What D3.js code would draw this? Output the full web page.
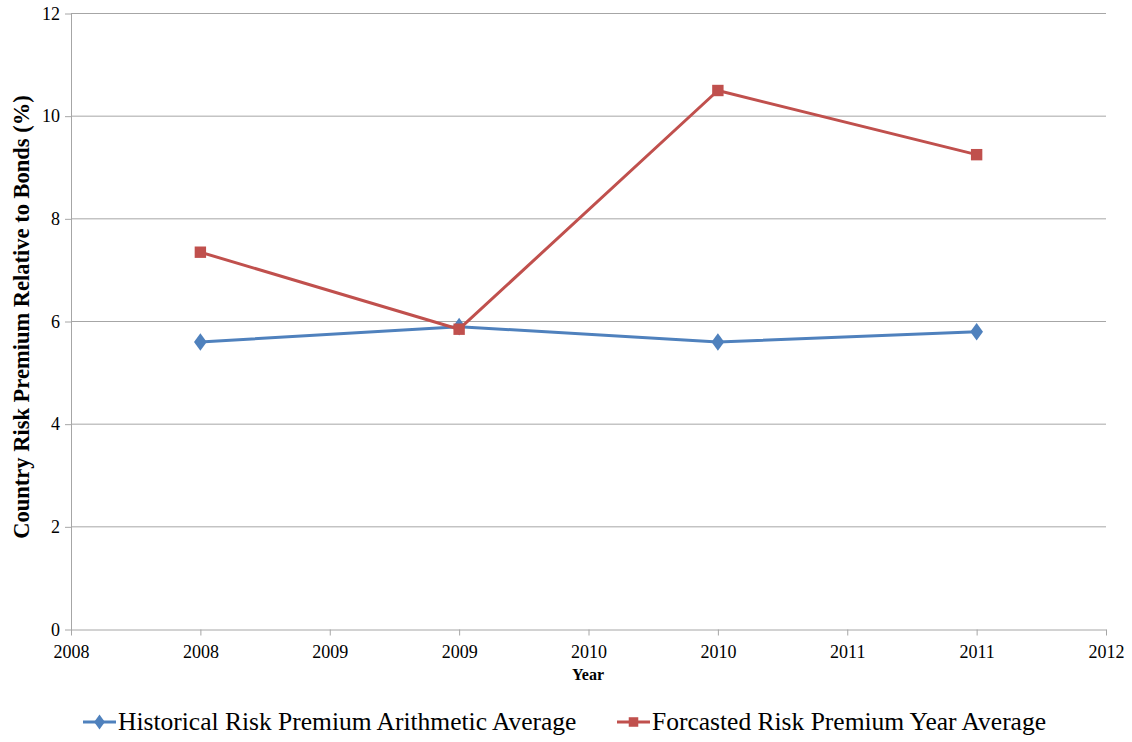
<!DOCTYPE html>
<html><head><meta charset="utf-8">
<script src="https://cdn.jsdelivr.net/npm/d3@7"></script>
<style>body{margin:0;background:#fff}svg{display:block}text{font-family:"Liberation Serif","Times New Roman",serif}</style>
</head><body><svg id="c" width="1132" height="742"></svg>
<script>
const years = [2008, 2009, 2010, 2011];
const historical = [5.6, 5.9, 5.6, 5.8];
const forecasted = [7.35, 5.85, 10.5, 9.25];
const xTicks = [2007.5, 2008, 2008.5, 2009, 2009.5, 2010, 2010.5, 2011, 2011.5];
const yTicks = [0, 2, 4, 6, 8, 10, 12];
const seriesNames = ["Historical Risk Premium Arithmetic Average", "Forcasted Risk Premium Year Average"];

const svg = d3.select("#c");
const x = d3.scaleLinear().domain([2007.5, 2011.5]).range([71, 1106]);
const y = d3.scaleLinear().domain([0, 12]).range([629.5, 13.5]);
const grid = "#a6a6a6";

// gridlines
svg.append("g").selectAll("line").data(yTicks.filter(d => d > 0)).join("line")
  .attr("x1", x.range()[0]).attr("x2", x.range()[1])
  .attr("y1", d => y(d)).attr("y2", d => y(d))
  .attr("stroke", grid).attr("stroke-width", 1);

const xa = svg.append("g").attr("transform", `translate(0,${y(0)})`)
  .call(d3.axisBottom(x).tickValues(xTicks).tickFormat(d => String(Math.floor(d + 0.5))).tickSize(6).tickSizeOuter(0));
const ya = svg.append("g").attr("transform", `translate(${x.range()[0]},0)`)
  .call(d3.axisLeft(y).tickValues(yTicks).tickSize(6).tickSizeOuter(0));
[xa, ya].forEach(a => {
  a.attr("font-family", null).attr("font-size", null);
  a.select(".domain").attr("stroke", grid);
  a.selectAll(".tick line").attr("stroke", grid);
  a.selectAll("text").style("font-size", "18px").attr("fill", "#000").style("font-family", "'Liberation Serif', serif");
});
xa.selectAll("text").attr("dy", "1.1em");
ya.selectAll("text").attr("x", -11);

const series = [
  {vals: historical, color: "#4F81BD", shape: d3.symbolDiamond, size: 90},
  {vals: forecasted, color: "#C0504D", shape: d3.symbolSquare, size: 130}
];
const line = d3.line().x((d, i) => x(years[i])).y(d => y(d));
series.forEach(s => {
  svg.append("path").datum(s.vals).attr("d", line).attr("fill", "none")
    .attr("stroke", s.color).attr("stroke-width", 3).attr("stroke-linejoin", "round");
  svg.append("g").selectAll("path").data(s.vals).join("path")
    .attr("d", d3.symbol().type(s.shape).size(s.size))
    .attr("transform", (d, i) => `translate(${x(years[i])},${y(d)})` + (s.shape === d3.symbolDiamond ? " scale(1.25,1)" : ""))
    .attr("fill", s.color);
});

// axis titles
svg.append("text").attr("transform", "translate(29,317) rotate(-90)").attr("text-anchor", "middle")
  .attr("font-size", 22.5).attr("font-weight", "bold").text("Country Risk Premium Relative to Bonds (%)");
svg.append("text").attr("x", 588).attr("y", 680).attr("text-anchor", "middle")
  .attr("font-size", 16).attr("font-weight", "bold").text("Year");

// legend
const legX = [83, 617];
series.forEach((s, i) => {
  const g = svg.append("g").attr("transform", `translate(${legX[i]},722)`);
  g.append("line").attr("x1", 0).attr("x2", 33).attr("stroke", s.color).attr("stroke-width", 3);
  g.append("path").attr("d", d3.symbol().type(s.shape).size(s.size * 0.7)).attr("transform", "translate(16.5,0)" + (s.shape === d3.symbolDiamond ? " scale(1.25,1)" : "")).attr("fill", s.color);
  g.append("text").attr("x", 35).attr("y", 8).attr("font-size", 25.5).attr("fill", "#000").text(seriesNames[i]);
});
</script></body></html>
